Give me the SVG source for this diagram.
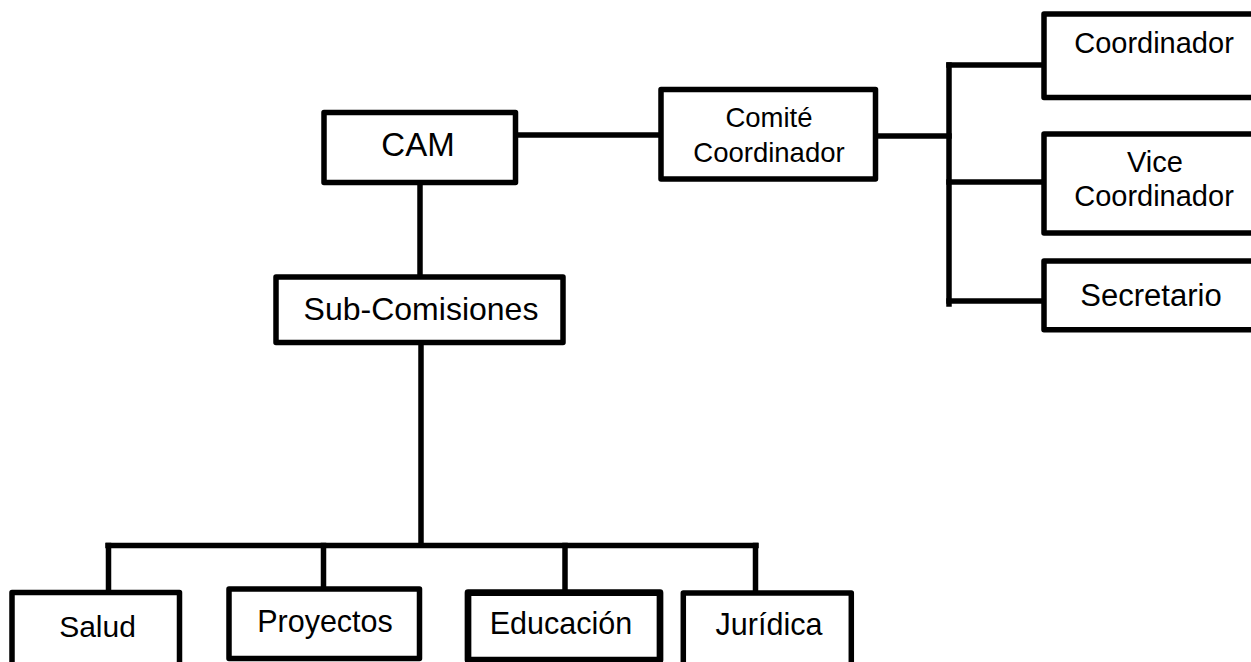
<svg xmlns="http://www.w3.org/2000/svg" width="1251" height="662" viewBox="0 0 1251 662">
<style>
  .box { fill: #ffffff; stroke: #000000; stroke-width: 5.5; stroke-linejoin: round; }
  .thick { stroke-width: 6.7; }
  .conn { fill: none; stroke: #000000; stroke-width: 5.5; stroke-linecap: square; }
  text { font-family: "Liberation Sans", Arial, sans-serif; fill: #000000; text-anchor: middle; }
</style>
<rect width="1251" height="662" fill="#ffffff"/>
<g id="connectors">
  <line class="conn" x1="518" y1="135" x2="659" y2="135"/>
  <line class="conn" x1="878" y1="136" x2="949" y2="136"/>
  <line class="conn" x1="949" y1="65" x2="949" y2="304"/>
  <line class="conn" x1="949" y1="65" x2="1042" y2="65"/>
  <line class="conn" x1="949" y1="182" x2="1042" y2="182"/>
  <line class="conn" x1="949" y1="301" x2="1042" y2="301"/>
  <line class="conn" x1="420" y1="185" x2="420" y2="275"/>
  <line class="conn" x1="421" y1="345" x2="421" y2="545"/>
  <line class="conn" x1="108" y1="545.5" x2="756" y2="545.5"/>
  <line class="conn" x1="108.5" y1="545.5" x2="108.5" y2="590"/>
  <line class="conn" x1="323.5" y1="545.5" x2="323.5" y2="587"/>
  <line class="conn" x1="565" y1="545.5" x2="565" y2="590"/>
  <line class="conn" x1="755.5" y1="545.5" x2="755.5" y2="591"/>
</g>
<g id="cam">
  <rect class="box" x="324" y="112.5" width="191.5" height="70"/>
  <text x="418" y="156" font-size="33">CAM</text>
</g>
<g id="comite">
  <rect class="box" x="661" y="89.5" width="214.5" height="89.5"/>
  <text x="769" y="126.7" font-size="27.5">Comité</text>
  <text x="769" y="161.7" font-size="27.5">Coordinador</text>
</g>
<g id="coordinador">
  <rect class="box" x="1044" y="14" width="220" height="83.5"/>
  <text x="1154" y="53.3" font-size="29">Coordinador</text>
</g>
<g id="vice">
  <rect class="box" x="1044" y="134" width="220" height="99"/>
  <text x="1155" y="172" font-size="29">Vice</text>
  <text x="1154" y="206" font-size="29">Coordinador</text>
</g>
<g id="secretario">
  <rect class="box" x="1044" y="261" width="220" height="68.7"/>
  <text x="1151" y="306" font-size="31">Secretario</text>
</g>
<g id="subcomisiones">
  <rect class="box" x="276" y="277" width="287" height="65.5"/>
  <text x="421" y="320" font-size="32">Sub-Comisiones</text>
</g>
<g id="salud">
  <rect class="box" x="12" y="592.5" width="167.5" height="100"/>
  <text x="97.5" y="636.7" font-size="30">Salud</text>
</g>
<g id="proyectos">
  <rect class="box" x="229" y="589" width="190.5" height="69.5"/>
  <text x="325" y="631.7" font-size="30.5">Proyectos</text>
</g>
<g id="educacion">
  <rect class="box thick" x="468" y="592.7" width="192" height="67.3"/>
  <text x="561" y="634" font-size="30.5">Educación</text>
</g>
<g id="juridica">
  <rect class="box" x="683.3" y="593" width="168" height="100"/>
  <text x="769" y="635" font-size="30.5">Jurídica</text>
</g>
</svg>
